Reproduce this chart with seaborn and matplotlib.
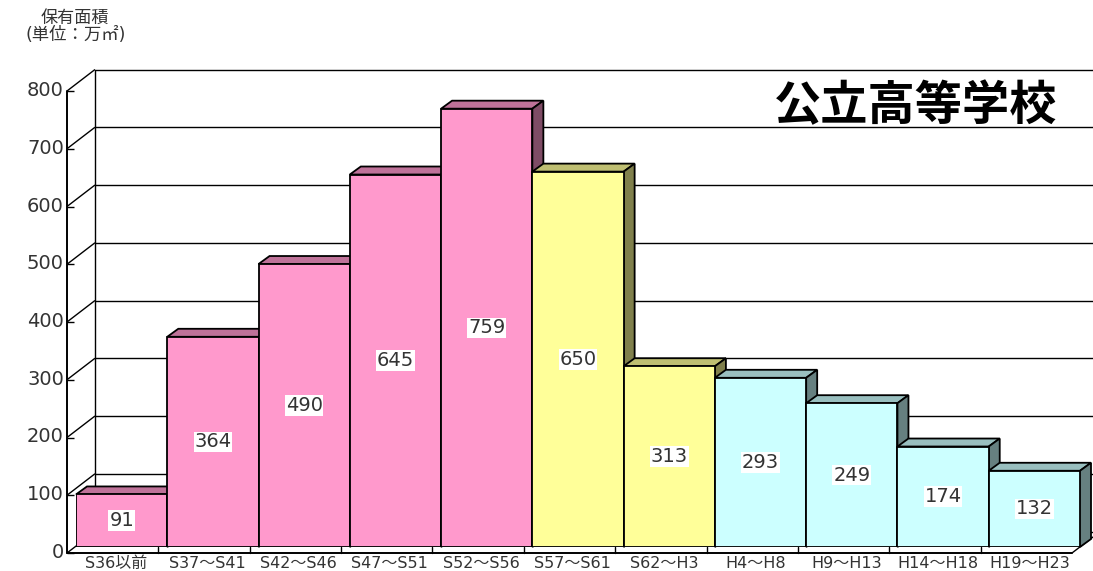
import pandas as pd
import matplotlib
matplotlib.use('Agg')
import matplotlib.pyplot as plt
from matplotlib.patches import Polygon
import seaborn as sns

categories = ['S36以前', 'S37～S41', 'S42～S46', 'S47～S51', 'S52～S56', 'S57～S61',
              'S62～H3', 'H4～H8', 'H9～H13', 'H14～H18', 'H19～H23']
values = [91, 364, 490, 645, 759, 650, 313, 293, 249, 174, 132]
groups = ['a', 'a', 'a', 'a', 'a', 'b', 'b', 'c', 'c', 'c', 'c']
y_ticks = [0, 100, 200, 300, 400, 500, 600, 700, 800]

front_colors = {'a': '#FF99CC', 'b': '#FFFF99', 'c': '#CCFFFF'}
top_colors = {'a': '#BF7299', 'b': '#BFBF72', 'c': '#99BFBF'}
side_colors = {'a': '#7F4C66', 'b': '#80804C', 'c': '#668080'}

sns.set_theme(style='white')
plt.rcParams['font.family'] = ['DejaVu Sans', 'Noto Sans CJK JP']

W, H = 1093, 571
fig = plt.figure(figsize=(W / 100, H / 100), dpi=100, facecolor='white')

# frame (walls and floor) in pixel coordinates, behind the bars
bg = fig.add_axes([0, 0, 1, 1])
bg.set_xlim(0, W)
bg.set_ylim(H, 0)
bg.axis('off')

px_per_unit = 462 / 800
front_x, front_y0 = 67, 553
back_x, back_y0 = 95, 531.5
line = dict(color='black', lw=1.0, solid_capstyle='butt')
for t in y_ticks:
    yf = front_y0 - t * px_per_unit
    yb = back_y0 - t * px_per_unit
    bg.plot([back_x, W], [yb, yb], **line)
    bg.plot([front_x, back_x], [yf, yb], **line)
    bg.plot([front_x, front_x + 7], [yf, yf], **line)
    bg.text(front_x - 3, yf - 0.5, str(t), ha='right', va='center', fontsize=14, color='#333333')
top_f = front_y0 - 800 * px_per_unit
bg.plot([front_x, front_x], [front_y0, top_f], color='black', lw=1.4)
bg.plot([back_x, back_x], [back_y0, top_f - 21], color='black', lw=1.0)
bg.plot([front_x, 1072], [front_y0, front_y0], color='black', lw=1.4)
bg.plot([1072, 1093], [front_y0, front_y0 - 16], color='black', lw=1.0)
step = (1072 - front_x) / len(categories)
for i, c in enumerate(categories):
    if i > 0:
        bg.plot([front_x + i * step] * 2, [front_y0 - 6, front_y0], color='black', lw=1.0)
    bg.text(front_x + (i + 0.5) * step + 3, 563, c, ha='center', va='center', fontsize=11.5, color='#333333')

bg.text(74.5, 18, '保有面積', ha='center', va='center', fontsize=12.3, color='#333333')
bg.text(75.5, 35, '(単位：万㎡)', ha='center', va='center', fontsize=12.5, color='#333333')

# bars
ax = fig.add_axes([76 / W, (H - 547) / H, 1004 / W, 462 / H])
ax.patch.set_alpha(0)
df = pd.DataFrame({'cat': categories, 'val': values, 'grp': groups})
sns.barplot(data=df, x='cat', y='val', hue='grp', palette=front_colors, dodge=False,
            width=1.0, legend=False, edgecolor='black', linewidth=1.3, saturation=1, ax=ax)
ax.set_xlim(-0.5, len(categories) - 0.5)
ax.set_ylim(0, 800)
ax.axis('off')

# depth of the bars, converted from pixels to data units
dx = 11 / (1004 / len(categories))
dy = 8 / px_per_unit

bars = sorted(ax.patches, key=lambda p: p.get_x())
edge = dict(edgecolor='black', linewidth=1.3, clip_on=False, joinstyle='miter')
for i, (bar, g, v) in enumerate(zip(bars, groups, values)):
    x0, x1 = bar.get_x(), bar.get_x() + bar.get_width()
    z = 3 + i
    bar.set_zorder(z + 0.5)
    ax.add_patch(Polygon([(x0, v), (x0 + dx, v + dy), (x1 + dx, v + dy), (x1, v)],
                         facecolor=top_colors[g], zorder=z, **edge))
    ax.add_patch(Polygon([(x1, 0), (x1 + dx, dy), (x1 + dx, v + dy), (x1, v)],
                         facecolor=side_colors[g], zorder=z, **edge))
    ax.text((x0 + x1) / 2, v / 2, str(v), ha='center', va='center', fontsize=14, color='#333333',
            zorder=50, bbox=dict(facecolor='white', edgecolor='none', pad=0.6))

bg.text(916, 106, '公立高等学校', ha='center', va='center', fontsize=34, fontweight='bold',
        color='black', family=['Noto Sans CJK JP', 'DejaVu Sans'])

fig.savefig('out.png', dpi=100)
